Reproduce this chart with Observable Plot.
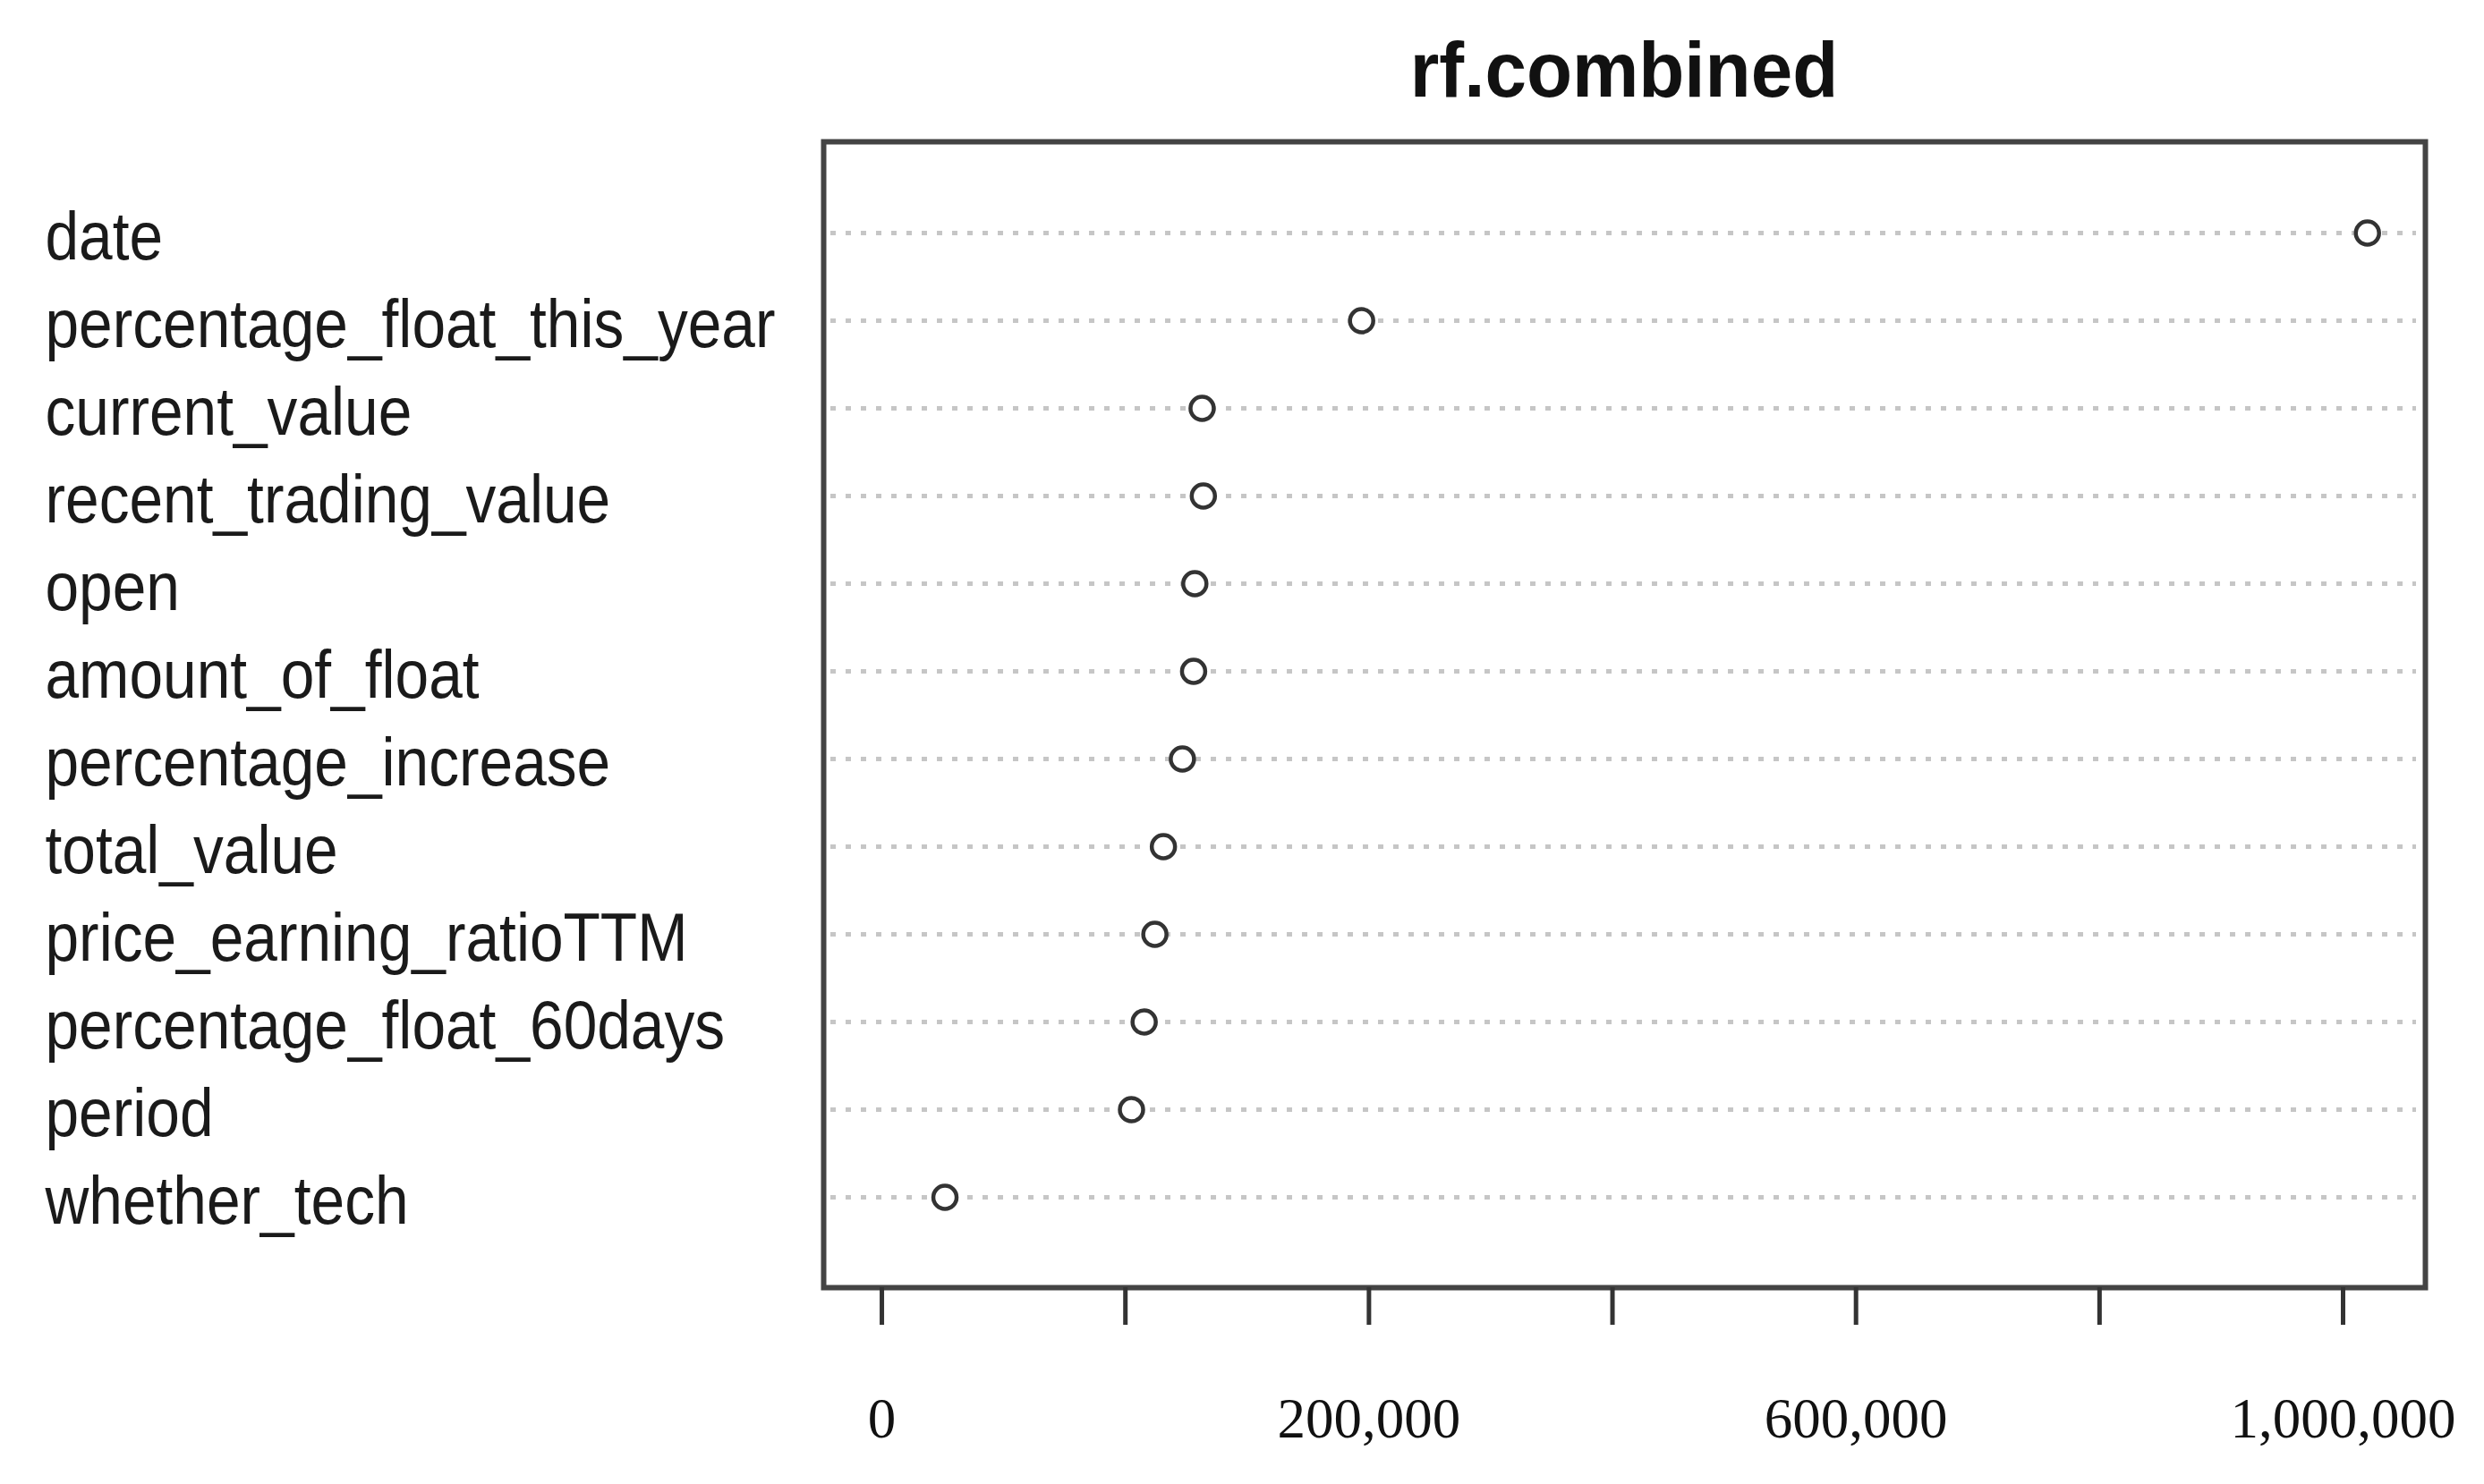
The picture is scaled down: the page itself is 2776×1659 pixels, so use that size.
<!DOCTYPE html>
<html>
<head>
<meta charset="utf-8">
<script src="https://cdn.jsdelivr.net/npm/d3@7"></script>
<script src="https://cdn.jsdelivr.net/npm/@observablehq/plot@0.6"></script>
<style>
  html, body { margin: 0; padding: 0; background: #ffffff; }
  #title { position: relative; width: 2776px; height: 140px; }
  #title span {
    position: absolute; left: 1815px; top: 34px;
    font-family: "Liberation Sans", Arial, sans-serif; font-weight: bold;
    font-size: 88px; line-height: 1; color: #111; white-space: nowrap;
    transform: translateX(-50%) scaleX(0.95);
  }
  #chart svg { display: block; }
</style>
</head>
<body>
<div id="title"><span>rf.combined</span></div>
<div id="chart"></div>
<script>
// Variables, top to bottom as drawn
const features = [
  "date",
  "percentage_float_this_year",
  "current_value",
  "recent_trading_value",
  "open",
  "amount_of_float",
  "percentage_increase",
  "total_value",
  "price_earning_ratioTTM",
  "percentage_float_60days",
  "period",
  "whether_tech"
];
// Importance values
const importance = [
  1020000,
  197000,
  131500,
  132000,
  128500,
  128000,
  123400,
  115600,
  112100,
  107700,
  102500,
  25900
];
// Axis ticks and their printed labels (as shown in the reference)
const tickValues = [0, 100000, 200000, 400000, 600000, 800000, 1000000];
const tickLabels = ["0", "", "200,000", "", "600,000", "", "1,000,000"];
// The labelled ticks are evenly spaced, so the axis is piecewise linear between them
const labelledValues = [0, 200000, 600000, 1000000];

const data = features.map((f, i) => ({feature: f, importance: importance[i]}));

// piecewise-linear scale transform: labelled ticks are two tick-steps apart
const piecewise = d3.scaleLinear().domain(labelledValues).range([0, 2, 4, 6]);
// tick positions expressed in the transformed (axis) units
const tickPos = tickValues.map(v => piecewise(v));
const labelAt = new Map(tickPos.map((p, i) => [p, tickLabels[i]]));

const W = 2776, H = 1519;
const mL = 920, mR = 66;

const chart = Plot.plot({
  width: W,
  height: H,
  marginLeft: mL,
  marginRight: mR,
  marginTop: 18,
  marginBottom: 220,
  style: {fontFamily: "Liberation Sans, Arial, sans-serif", background: "#ffffff", color: "#111"},
  x: {transform: piecewise, domain: [-0.239, 6.338]},
  y: {type: "point", domain: features, padding: 1, axis: null},
  marks: [
    Plot.ruleY(features, {y: d => d, stroke: "#c6c6c6", strokeWidth: 5, strokeDasharray: "6,11", insetLeft: 8, insetRight: 10}),
    Plot.frame({stroke: "#444", strokeWidth: 6}),
    Plot.axisX({
      ticks: tickPos,
      tickFormat: d => labelAt.get(d) ?? "",
      tickSize: 42,
      tickPadding: 81,
      fontSize: 63,
      fontFamily: "Liberation Serif, Times New Roman, serif",
      stroke: "#333",
      strokeWidth: 5,
      fill: "#111",
      label: null
    }),
    Plot.text(features, {
      y: d => d,
      text: d => d,
      frameAnchor: "left",
      textAnchor: "start",
      dx: 50 - mL,
      dy: 5,
      fontSize: 76,
      fill: "#1a1a1a"
    }),
    Plot.dot(data, {x: "importance", y: "feature", r: 13, stroke: "#333", strokeWidth: 4.5, fill: "white"})
  ]
});

// slightly condensed lettering for the row labels, as in the reference
chart.querySelectorAll('g[aria-label="text"] text').forEach(t => {
  const tr = t.getAttribute("transform") || "";
  t.setAttribute("transform", (tr + " scale(0.89,1)").trim());
});

document.getElementById("chart").appendChild(chart);
</script>
</body>
</html>
